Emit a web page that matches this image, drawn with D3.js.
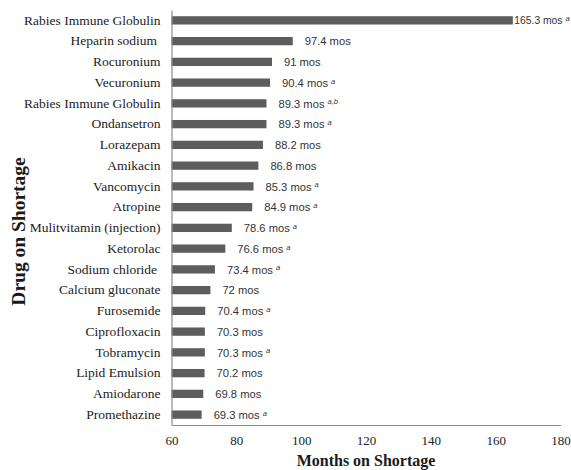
<!DOCTYPE html>
<html>
<head>
<meta charset="utf-8">
<script src="https://cdn.jsdelivr.net/npm/d3@7"></script>
<style>
  html, body { margin: 0; padding: 0; background: #fff; }
  svg { display: block; }
</style>
</head>
<body>
<svg id="chart" width="571" height="470"></svg>
<script>
// Drugs with the longest cumulative shortage duration
const drugs = [
  "Rabies Immune Globulin", "Heparin sodium ", "Rocuronium", "Vecuronium",
  "Rabies Immune Globulin", "Ondansetron", "Lorazepam", "Amikacin",
  "Vancomycin", "Atropine", "Mulitvitamin (injection)", "Ketorolac",
  "Sodium chloride ", "Calcium gluconate", "Furosemide", "Ciprofloxacin",
  "Tobramycin", "Lipid Emulsion", "Amiodarone", "Promethazine"
];
const months = [
  165.3, 97.4, 91, 90.4, 89.3, 89.3, 88.2, 86.8, 85.3, 84.9,
  78.6, 76.6, 73.4, 72, 70.4, 70.3, 70.3, 70.2, 69.8, 69.3
];
// footnote markers shown after each value label
const notes = [
  "a", "", "", "a", "a,b", "a", "", "", "a", "a",
  "a", "a", "a", "", "a", "", "a", "", "", "a"
];
const xTicks = [60, 80, 100, 120, 140, 160, 180];

const W = 571, H = 470;
const m = { left: 171.5, right: 560.5, top: 10, bottom: 425 };

const svg = d3.select("#chart");

const x = d3.scaleLinear().domain([60, 180]).range([m.left, m.right]);
const y = d3.scaleBand()
  .domain(d3.range(drugs.length))
  .range([m.top, m.bottom])
  .paddingInner(0.6)
  .paddingOuter(0.3);

const serif = "'Liberation Serif', 'Times New Roman', serif";
const sans = "'Liberation Sans', Arial, sans-serif";

// bars
svg.append("g").selectAll("rect")
  .data(months)
  .join("rect")
  .attr("x", x(60))
  .attr("y", (d, i) => y(i))
  .attr("width", d => x(d) - x(60))
  .attr("height", y.bandwidth())
  .attr("fill", "#5d5d5d");

// axes
const xAxis = svg.append("g")
  .attr("transform", `translate(0,${m.bottom})`)
  .call(d3.axisBottom(x).tickValues(xTicks).tickSize(0).tickPadding(11).tickFormat(d3.format("d")));
xAxis.select(".domain").attr("stroke", "#8c8c8c").attr("stroke-width", 1.2);
xAxis.selectAll("text")
  .attr("font-family", serif)
  .attr("font-size", 13)
  .attr("fill", "#222");

const yAxis = svg.append("g")
  .attr("transform", `translate(${m.left},0)`)
  .call(d3.axisLeft(y).tickSize(0).tickPadding(11).tickFormat(i => drugs[i]));
yAxis.select(".domain").attr("stroke", "#8c8c8c").attr("stroke-width", 1.2);
yAxis.selectAll("text")
  .attr("font-family", serif)
  .attr("font-size", 13.5)
  .attr("fill", "#222")
  .attr("xml:space", "preserve")
  .style("white-space", "pre");

// value labels with superscript footnotes; a label with no room past its
// bar sits right against the bar end, in a smaller size if needed
const labelSize = 11.2;
const labels = svg.append("g").selectAll("text")
  .data(months)
  .join("text")
  .attr("y", (d, i) => y(i) + y.bandwidth() / 2)
  .attr("dy", "0.38em")
  .attr("font-family", sans)
  .attr("font-size", labelSize)
  .attr("fill", "#333");
labels.append("tspan").text(d => `${d} mos`);
labels.each(function (d, i) {
  const t = d3.select(this);
  if (notes[i]) {
    t.append("tspan")
      .attr("dx", 3)
      .attr("dy", "-0.45em")
      .attr("font-size", 7.5)
      .attr("font-style", "italic")
      .text(notes[i]);
  }
  const w = this.getComputedTextLength() + 3;
  let pos = x(d) + 12;
  if (pos + w > W - 2) {
    pos = Math.max(W - 2 - w, x(d) + 1.5);
    const room = W - 2 - pos;
    if (w > room) t.attr("font-size", labelSize * room / w);
  }
  t.attr("x", pos);
});

// axis titles
svg.append("text")
  .attr("x", (m.left + m.right) / 2)
  .attr("y", 466)
  .attr("text-anchor", "middle")
  .attr("font-family", serif)
  .attr("font-weight", "bold")
  .attr("font-size", 16)
  .attr("fill", "#1a1a1a")
  .text("Months on Shortage");

svg.append("text")
  .attr("transform", `translate(25,${(m.top + m.bottom) / 2 + 14}) rotate(-90)`)
  .attr("text-anchor", "middle")
  .attr("font-family", serif)
  .attr("font-weight", "bold")
  .attr("font-size", 19.5)
  .attr("fill", "#1a1a1a")
  .text("Drug on Shortage");
</script>
</body>
</html>
